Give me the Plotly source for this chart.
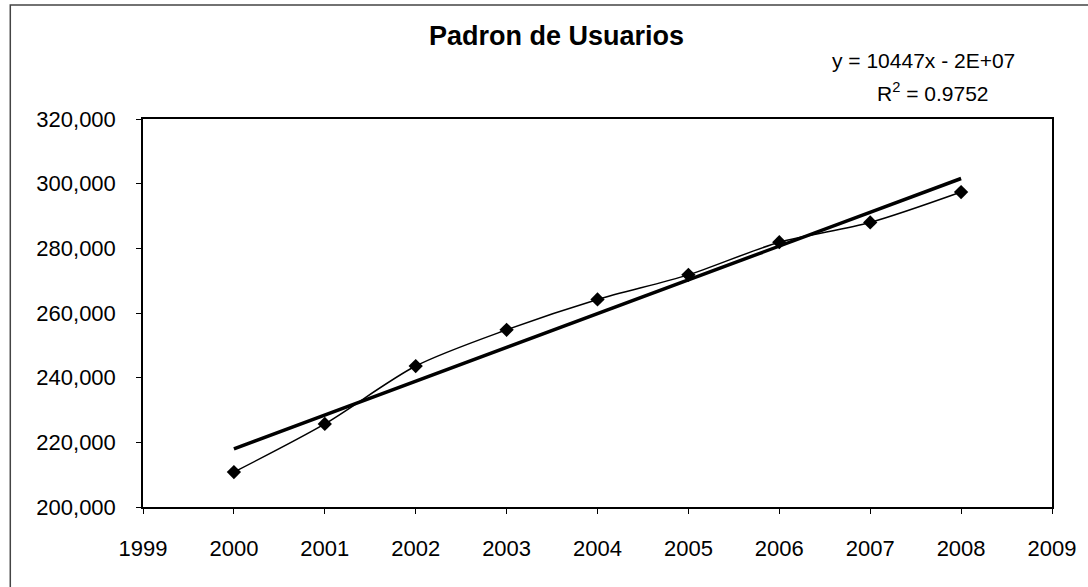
import numpy as np
import plotly.graph_objects as go

# Data
years = [2000, 2001, 2002, 2003, 2004, 2005, 2006, 2007, 2008]
usuarios = [210800, 225700, 243600, 254800, 264200, 271800, 281900, 288000, 297400]
y_ticks = [200000, 220000, 240000, 260000, 280000, 300000, 320000]
x_ticks = list(range(1999, 2010))
title_text = "Padron de Usuarios"
eq_text = "y = 10447x - 2E+07"
r2_text = "R<sup>2</sup> = 0.9752"

# Linear trend (least squares) computed from the data
slope, intercept = np.polyfit(years, usuarios, 1)
trend = [slope * x + intercept for x in years]

W, H = 1088, 587
L, R, T, B = 143, 1054, 119, 507
def px(x):
    return (x - L) / (R - L)
def py(y):
    return (B - y) / (B - T)

FONT = "Arial, Liberation Sans, sans-serif"

fig = go.Figure()
fig.add_trace(go.Scatter(
    x=[years[0], years[-1]], y=[trend[0], trend[-1]], mode="lines",
    line=dict(color="black", width=3.5), showlegend=False, hoverinfo="skip"))
fig.add_trace(go.Scatter(
    x=years, y=usuarios, mode="lines+markers",
    line=dict(color="black", width=1.5, shape="spline", smoothing=0.8),
    marker=dict(symbol="diamond", size=11, color="black"),
    showlegend=False))

fig.update_layout(
    width=W, height=H,
    margin=dict(l=L, r=W - R, t=T, b=H - B),
    paper_bgcolor="white", plot_bgcolor="white",
    font=dict(family=FONT, color="black", size=22),
    xaxis=dict(range=[1999, 2009], tickvals=x_ticks, ticktext=[str(v) for v in x_ticks],
               showgrid=False, zeroline=False, showline=True, mirror=True,
               linecolor="black", linewidth=1.5, ticks="outside", ticklen=5,
               tickcolor="black", ticklabelstandoff=16,
               tickfont=dict(family=FONT, size=22)),
    yaxis=dict(range=[200000, 320000], tickvals=y_ticks, tickformat=",d",
               showgrid=False, zeroline=False, showline=True, mirror=True,
               linecolor="black", linewidth=1.5, ticks="outside", ticklen=5,
               tickcolor="black", ticklabelstandoff=16,
               tickfont=dict(family=FONT, size=22)),
    shapes=[dict(type="rect", xref="paper", yref="paper",
                 x0=px(10), x1=px(1300), y0=py(700), y1=py(5),
                 line=dict(color="#444", width=1.5), fillcolor="rgba(0,0,0,0)")],
    annotations=[
        dict(text="<b>" + title_text + "</b>", xref="paper", yref="paper",
             x=px(557), y=py(36), xanchor="center", yanchor="middle",
             showarrow=False, font=dict(family=FONT, size=27)),
        dict(text=eq_text, xref="paper", yref="paper",
             x=px(925), y=py(60), xanchor="center", yanchor="middle",
             showarrow=False, font=dict(family=FONT, size=21)),
        dict(text=r2_text, xref="paper", yref="paper",
             x=px(935), y=py(92), xanchor="center", yanchor="middle",
             showarrow=False, font=dict(family=FONT, size=21)),
    ],
)

fig.write_html(
    "out.html",
    config={"displayModeBar": False},
    post_script="document.documentElement.style.margin='0';"
                "document.body.style.margin='0';"
                "document.body.style.overflow='hidden';",
)
